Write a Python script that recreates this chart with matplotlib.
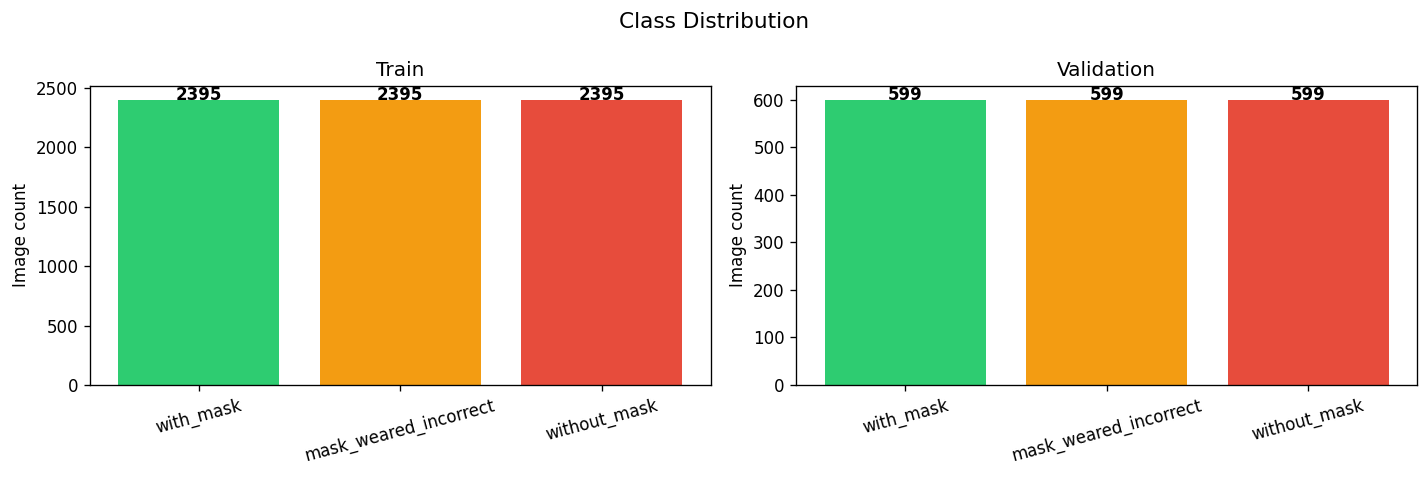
import matplotlib
matplotlib.use("Agg")
import matplotlib.pyplot as plt

classes = ["with_mask", "mask_weared_incorrect", "without_mask"]
train_counts = [2395, 2395, 2395]
val_counts = [599, 599, 599]
colors = ["#2ecc71", "#f39c12", "#e74c3c"]

fig, axes = plt.subplots(1, 2, figsize=(11.908, 3.975), dpi=120)

for ax, counts, title in zip(axes, [train_counts, val_counts], ["Train", "Validation"]):
    bars = ax.bar(classes, counts, color=colors)
    ax.set_title(title)
    ax.set_ylabel("Image count")
    ax.tick_params(axis="x", rotation=15)
    for bar, val in zip(bars, counts):
        ax.text(bar.get_x() + bar.get_width() / 2, bar.get_height(), str(val),
                ha="center", va="baseline", fontweight="bold")

fig.suptitle("Class Distribution", fontsize=13, y=0.975)
fig.subplots_adjust(left=0.063, right=0.9916, top=0.8197, bottom=0.1929, wspace=0.1385)
fig.savefig("out.png")
